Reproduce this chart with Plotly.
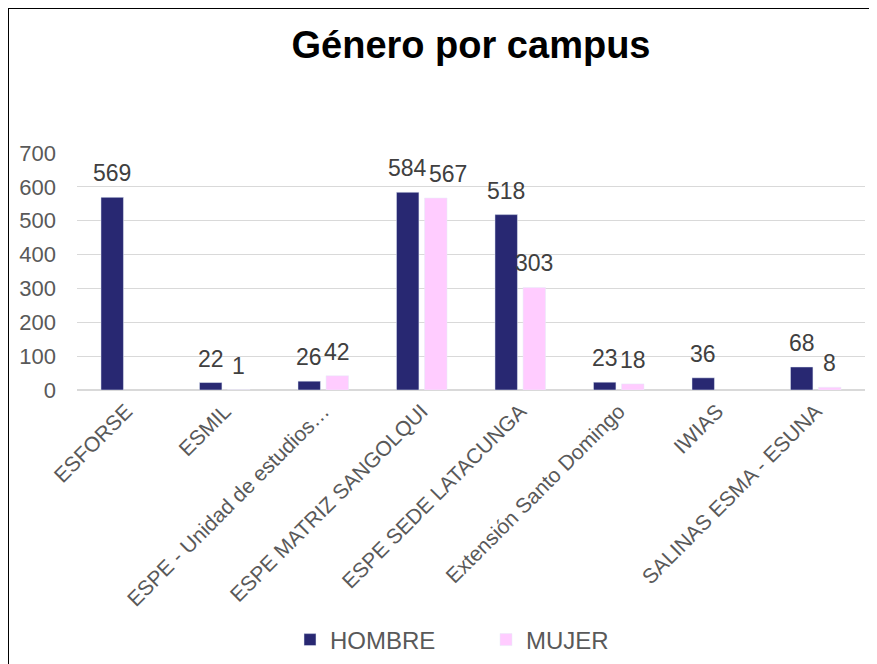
import plotly.graph_objects as go

campus = ["ESFORSE", "ESMIL", "ESPE - Unidad de estudios…", "ESPE MATRIZ SANGOLQUI",
          "ESPE SEDE LATACUNGA", "Extensión Santo Domingo", "IWIAS", "SALINAS ESMA - ESUNA"]
hombre = [569, 22, 26, 584, 518, 23, 36, 68]
mujer = [None, 1, 42, 567, 303, 18, None, 8]

# page sits 8px in from the window corner, so keep the figure inside the window
W, H = 869, 656
left, right, top, bottom = 69, 857, 145, 382

label_font = dict(family="Liberation Sans, Arial", size=23, color="#404040")

fig = go.Figure()
fig.add_trace(go.Bar(x=campus, y=hombre, name="HOMBRE", marker_color="#282872"))
fig.add_trace(go.Bar(x=campus, y=mujer, name="MUJER", marker_color="#FFCCFF"))

# data labels above each bar (Office style, a bit higher than plotly's outside text)
px_per_unit = (bottom - top) / 700
digit_w = 13
for c, h, m in zip(campus, hombre, mujer):
    if h is not None:
        fig.add_annotation(x=c, y=h, text=str(h), showarrow=False, xshift=-14,
                           yanchor="bottom", yshift=9, font=label_font)
    if m is not None:
        dx = 14
        # nudge the second label sideways when it would collide with the first
        if h is not None and abs(h - m) * px_per_unit < 22:
            need = (len(str(h)) + len(str(m))) * digit_w / 2
            if need > 28:
                dx += need - 28 + 1
        fig.add_annotation(x=c, y=m, text=str(m), showarrow=False, xshift=dx,
                           yanchor="bottom", yshift=9, font=label_font)

fig.update_layout(
    width=W, height=H,
    margin=dict(l=left, r=W - right, t=top, b=H - bottom),
    paper_bgcolor="white", plot_bgcolor="white",
    barmode="group", bargap=0.43, bargroupgap=0.2,
    title=dict(text="<b>Género por campus</b>", x=463 / W, xanchor="center",
               y=1 - 37 / H, yanchor="middle",
               font=dict(family="Liberation Sans, Arial", size=38, color="black")),
    font=dict(family="Liberation Sans, Arial", color="#595959"),
    legend=dict(orientation="h", x=478 / W, xanchor="center", xref="container",
                yref="container", y=1 - 632 / H, yanchor="middle",
                font=dict(size=24, color="#595959"),
                itemwidth=30, entrywidth=151, traceorder="normal"),
    showlegend=True,
)
fig.update_yaxes(range=[0, 700], dtick=100, showgrid=True, gridcolor="#d9d9d9",
                 gridwidth=1, zeroline=True, zerolinecolor="#d9d9d9",
                 tickfont=dict(size=22, color="#595959"), ticks="", ticklen=0,
                 ticklabelstandoff=20, automargin=False)
fig.update_xaxes(tickangle=-45, tickfont=dict(size=21, color="#595959"),
                 showline=False, ticks="", ticklabelstandoff=4, automargin=False)

# chart frame: only its top and left edges fall inside the picture
pw, ph = right - left, bottom - top
fx0, fy1 = (0 - left) / pw, bottom / ph
fig.add_shape(type="line", xref="paper", yref="paper", x0=fx0, x1=(W - left) / pw,
              y0=fy1, y1=fy1, line=dict(color="black", width=2))
fig.add_shape(type="line", xref="paper", yref="paper", x0=fx0, x1=fx0,
              y0=(bottom - H) / ph, y1=fy1, line=dict(color="black", width=2))

fig.write_html("out.html")
